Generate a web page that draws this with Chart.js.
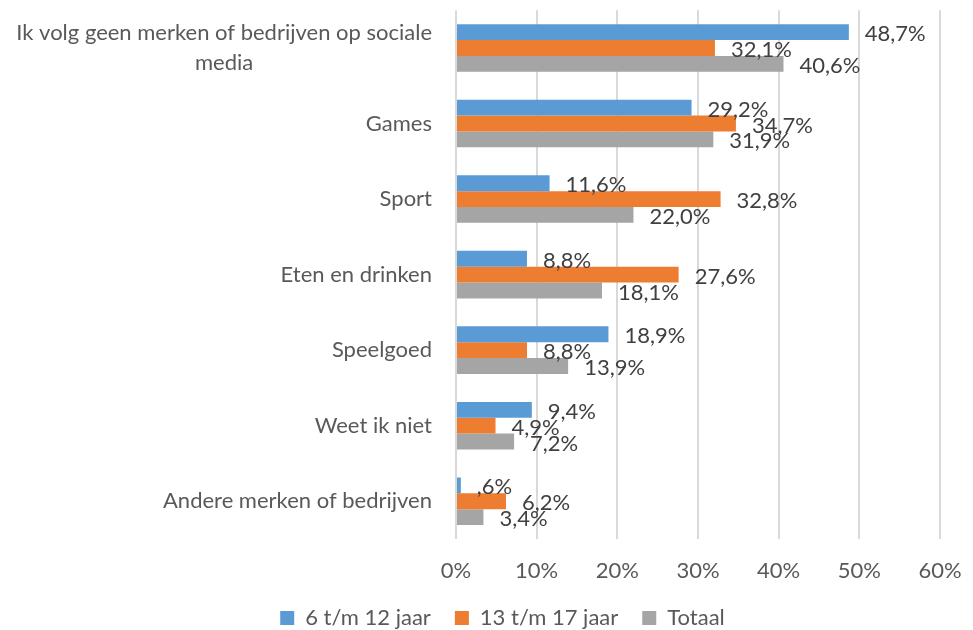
<!DOCTYPE html>
<html>
<head>
<meta charset="utf-8">
<script src="https://cdn.jsdelivr.net/npm/chart.js@4"></script>
<style>
  html, body { margin: 0; padding: 0; background: #fff; overflow: hidden; }
  #wrap { width: 973px; height: 639px; }
</style>
</head>
<body>
<div id="wrap"><canvas id="chart" width="973" height="639"></canvas></div>
<script>
const categories = [
  ['Ik volg geen merken of bedrijven op sociale', 'media'],
  'Games',
  'Sport',
  'Eten en drinken',
  'Speelgoed',
  'Weet ik niet',
  'Andere merken of bedrijven'
];
const seriesNames = ['6 t/m 12 jaar', '13 t/m 17 jaar', 'Totaal'];
const kids = [48.7, 29.2, 11.6, 8.8, 18.9, 9.4, 0.6];
const teens = [32.1, 34.7, 32.8, 27.6, 8.8, 4.9, 6.2];
const total = [40.6, 31.9, 22.0, 18.1, 13.9, 7.2, 3.4];
const xTicks = [0, 10, 20, 30, 40, 50, 60];
const colors = ['#5B9BD5', '#ED7D31', '#A5A5A5'];

const FONT = 'Lato, "Open Sans", sans-serif';
const FS = 22;

// 0,6 -> ,6 zoals in de bron
function fmt(v) {
  let s = v.toFixed(1).replace('.', ',');
  if (s.startsWith('0,')) s = s.slice(1);
  return s + '%';
}

// waarden rechts naast de balken
const valueLabels = {
  id: 'valueLabels',
  afterDatasetsDraw(chart) {
    const ctx = chart.ctx;
    ctx.save();
    ctx.font = FS + 'px ' + FONT;
    ctx.fillStyle = '#404040';
    ctx.textAlign = 'left';
    ctx.textBaseline = 'middle';
    chart.data.datasets.forEach((ds, i) => {
      chart.getDatasetMeta(i).data.forEach((bar, j) => {
        ctx.fillText(fmt(ds.data[j]), bar.x + 16, bar.y + 2);
      });
    });
    ctx.restore();
  }
};

// categorie-labels: rechts uitgelijnd blok, regels gecentreerd
const catLabels = {
  id: 'catLabels',
  afterLayout(chart) {
    // legenda iets naar rechts, zoals in de bron
    chart.legend.left += 16;
    chart.legend.right += 16;
  },
  afterDraw(chart) {
    const ctx = chart.ctx;
    const y = chart.scales.y;
    const right = chart.chartArea.left - 24;
    const lh = 30;
    ctx.save();
    ctx.font = FS + 'px ' + FONT;
    ctx.fillStyle = '#595959';
    ctx.textAlign = 'center';
    ctx.textBaseline = 'middle';
    categories.forEach((c, i) => {
      const lines = Array.isArray(c) ? c : [c];
      const w = Math.max(...lines.map(l => ctx.measureText(l).width));
      const cy = y.getPixelForValue(i) - (lines.length - 1) * lh / 2;
      lines.forEach((l, k) => ctx.fillText(l, right - w / 2, cy + k * lh));
    });
    ctx.restore();
  }
};

new Chart(document.getElementById('chart'), {
  type: 'bar',
  data: {
    labels: categories,
    datasets: [
      { label: seriesNames[0], data: kids, backgroundColor: colors[0] },
      { label: seriesNames[1], data: teens, backgroundColor: colors[1] },
      { label: seriesNames[2], data: total, backgroundColor: colors[2] }
    ]
  },
  options: {
    indexAxis: 'y',
    responsive: false,
    animation: false,
    layout: { padding: { top: 10, right: 0, left: 0, bottom: 0 } },
    datasets: { bar: { categoryPercentage: 0.63, barPercentage: 1 } },
    scales: {
      x: {
        min: 0,
        max: 60,
        afterBuildTicks(scale) { scale.ticks = xTicks.map(v => ({ value: v })); },
        afterFit(scale) {
          scale.height = 44;
          scale.paddingRight = 33;
          scale.paddingLeft = 0;
        },
        grid: { color: '#D9D9D9', lineWidth: 2, drawTicks: false },
        border: { display: false },
        ticks: {
          padding: 19,
          color: '#595959',
          font: { family: FONT, size: FS },
          callback: v => v + '%'
        }
      },
      y: {
        grid: { display: false },
        border: { display: false },
        ticks: { color: 'transparent', font: { family: FONT, size: 12 } },
        afterFit(scale) { scale.width = 456; }
      }
    },
    plugins: {
      legend: {
        position: 'bottom',
        labels: {
          color: '#595959',
          font: { family: FONT, size: FS },
          boxWidth: 14,
          boxHeight: 14,
          padding: 24
        }
      },
      tooltip: { enabled: false }
    }
  },
  plugins: [valueLabels, catLabels]
});
</script>
</body>
</html>
